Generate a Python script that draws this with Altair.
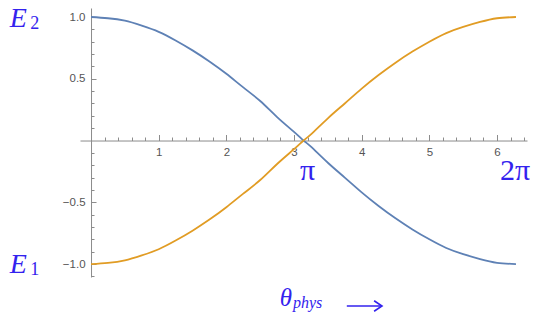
import altair as alt
import pandas as pd
import math

# ---- data ----
theta = [0.0, 0.25, 0.5, 0.75, 1.0, 1.25, 1.5, 1.75, 2.0, 2.25, 2.5, 2.75, 3.0,
         3.14, 3.25, 3.5, 3.75, 4.0, 4.25, 4.5, 4.75, 5.0, 5.25, 5.5, 5.75, 6.0, 6.28]
e2_blue = [1.00, 0.99, 0.97, 0.93, 0.88, 0.81, 0.73, 0.64, 0.54, 0.43, 0.32, 0.19, 0.07,
           0.00, -0.05, -0.18, -0.30, -0.42, -0.53, -0.63, -0.72, -0.80, -0.87, -0.92, -0.96, -0.99, -1.00]
e1_orange = [-1.00, -0.99, -0.97, -0.93, -0.88, -0.81, -0.73, -0.64, -0.54, -0.43, -0.32, -0.19, -0.07,
             0.00, 0.05, 0.18, 0.30, 0.42, 0.53, 0.63, 0.72, 0.80, 0.87, 0.92, 0.96, 0.99, 1.00]

x_major = [1, 2, 3, 4, 5, 6]
x_ticks = [0.2, 0.4, 0.6, 0.8, 1.0, 1.2, 1.4, 1.6, 1.8, 2.0, 2.2, 2.4, 2.6, 2.8, 3.0,
           3.2, 3.4, 3.6, 3.8, 4.0, 4.2, 4.4, 4.6, 4.8, 5.0, 5.2, 5.4, 5.6, 5.8, 6.0, 6.2, 6.4]
y_major = [-1.0, -0.5, 0.5, 1.0]
y_ticks = [-1.1, -1.0, -0.9, -0.8, -0.7, -0.6, -0.5, -0.4, -0.3, -0.2, -0.1,
           0.1, 0.2, 0.3, 0.4, 0.5, 0.6, 0.7, 0.8, 0.9, 1.0]

# annotations (data coordinates)
e_text = ["E", "E"]
e_sub = ["2", "1"]
e_y = [1.0, -1.0]
pi_text = ["π", "2π"]
pi_x = [math.pi, 2 * math.pi]
arrow_x = [3.78, 4.30]
arrow_y = [-1.34]

series_names = ["E2", "E1"]
series_colors = ["#5E81B5", "#E19C24"]

df = pd.DataFrame({
    "x": theta * 2,
    "y": e2_blue + e1_orange,
    "series": [series_names[0]] * len(theta) + [series_names[1]] * len(theta),
})

XD = [-0.163, 6.443]
YD = [-1.105, 1.073]
W, H = 447, 269
x0_px = (0 - XD[0]) / (XD[1] - XD[0]) * W
y0_px = (YD[1] - 0) / (YD[1] - YD[0]) * H

xs = alt.Scale(domain=XD, nice=False, zero=False)
ys = alt.Scale(domain=YD, nice=False, zero=False)

AX = "#8c8c8c"
LAB = "#555555"
BLUE = "#3322ee"

x_tick_axis = alt.Axis(orient="top", offset=-y0_px, values=x_ticks, labels=False, grid=False,
                       title=None, domainColor=AX, tickColor=AX, domainWidth=1, tickWidth=1,
                       tickSize={"condition": {"test": "abs(datum.value - round(datum.value)) < 1e-6", "value": 6}, "value": 3.5})
y_tick_axis = alt.Axis(orient="right", offset=-(W - x0_px), values=y_ticks, labels=False, grid=False,
                       title=None, domainColor=AX, tickColor=AX, domainWidth=1, tickWidth=1,
                       tickSize={"condition": {"test": "abs(datum.value*2 - round(datum.value*2)) < 1e-6", "value": 5}, "value": 3})
x_lab_axis = alt.Axis(orient="bottom", offset=-(H - y0_px), values=x_major, format="d", ticks=False,
                      tickSize=0, domain=False, grid=False, title=None, labelPadding=6,
                      labelFont="Liberation Sans", labelFontSize=11.5, labelColor=LAB)
y_lab_axis = alt.Axis(orient="left", offset=-x0_px, values=y_major, format=".1f", ticks=False,
                      tickSize=0, domain=False, grid=False, title=None, labelPadding=6,
                      labelFont="Liberation Sans", labelFontSize=11.5, labelColor=LAB)

lines = alt.Chart(df).mark_line(strokeWidth=1.8, interpolate="natural").encode(
    x=alt.X("x:Q", scale=xs, axis=x_tick_axis),
    y=alt.Y("y:Q", scale=ys, axis=y_tick_axis),
    color=alt.Color("series:N", scale=alt.Scale(domain=series_names, range=series_colors), legend=None),
    detail="series:N",
)

lab = alt.Chart(df).mark_point(opacity=0).encode(
    x=alt.X("x:Q", scale=xs, axis=x_lab_axis),
    y=alt.Y("y:Q", scale=ys, axis=y_lab_axis),
)

def txt(data, size, style="normal", dx=0, dy=0, align="left", font="Liberation Serif"):
    return alt.Chart(pd.DataFrame(data)).mark_text(
        font=font, fontSize=size, fontStyle=style, color=BLUE,
        align=align, baseline="alphabetic", dx=dx, dy=dy,
    ).encode(
        x=alt.X("x:Q", scale=xs, axis=None),
        y=alt.Y("y:Q", scale=ys, axis=None),
        text="t:N",
    )

t_E2 = txt({"t": [e_text[0]], "x": [-1.20], "y": [e_y[0]]}, 28, "italic", dy=10)
t_E1 = txt({"t": [e_text[1]], "x": [-1.20], "y": [e_y[1]]}, 28, "italic", dy=9)
t_S2 = txt({"t": [e_sub[0]], "x": [-0.90], "y": [e_y[0]]}, 18, "normal", dy=12)
t_S1 = txt({"t": [e_sub[1]], "x": [-0.90], "y": [e_y[1]]}, 18, "normal", dy=11)
t_pi1 = txt({"t": [pi_text[0]], "x": [pi_x[0]], "y": [-0.32]}, 30, "normal", dx=4, align="center")
t_pi2 = txt({"t": [pi_text[1]], "x": [pi_x[1]], "y": [-0.32]}, 30, "normal", dx=14, align="right")
t_th = txt({"t": ["θ"], "x": [2.79], "y": [-1.34]}, 25, "italic")
t_ph = txt({"t": ["phys"], "x": [2.985], "y": [-1.36]}, 16, "italic")

arrow_df = pd.DataFrame({"x": [arrow_x[0]], "x2": [arrow_x[1]], "y": arrow_y})
shaft = alt.Chart(arrow_df).mark_rule(color=BLUE, strokeWidth=1.6).encode(
    x=alt.X("x:Q", scale=xs, axis=None),
    x2="x2:Q",
    y=alt.Y("y:Q", scale=ys, axis=None),
)
head = alt.Chart(arrow_df).mark_point(
    shape="M -1.5 -1 L 0 0 L -1.5 1", filled=False, color=BLUE, strokeWidth=1.6,
    size=110, opacity=1, strokeJoin="miter",
).encode(
    x=alt.X("x2:Q", scale=xs, axis=None),
    y=alt.Y("y:Q", scale=ys, axis=None),
)

chart = alt.layer(lines, lab, t_E2, t_E1, t_S2, t_S1, t_pi1, t_pi2, t_th, t_ph, shaft, head).resolve_axis(
    x="independent", y="independent"
).properties(
    width=W, height=H,
    autosize=alt.AutoSizeParams(type="none"),
    padding={"left": 72, "top": 0, "right": 4, "bottom": 36},
).configure_view(stroke=None)

chart.save("out.html", embed_options={"renderer": "svg", "actions": False})
